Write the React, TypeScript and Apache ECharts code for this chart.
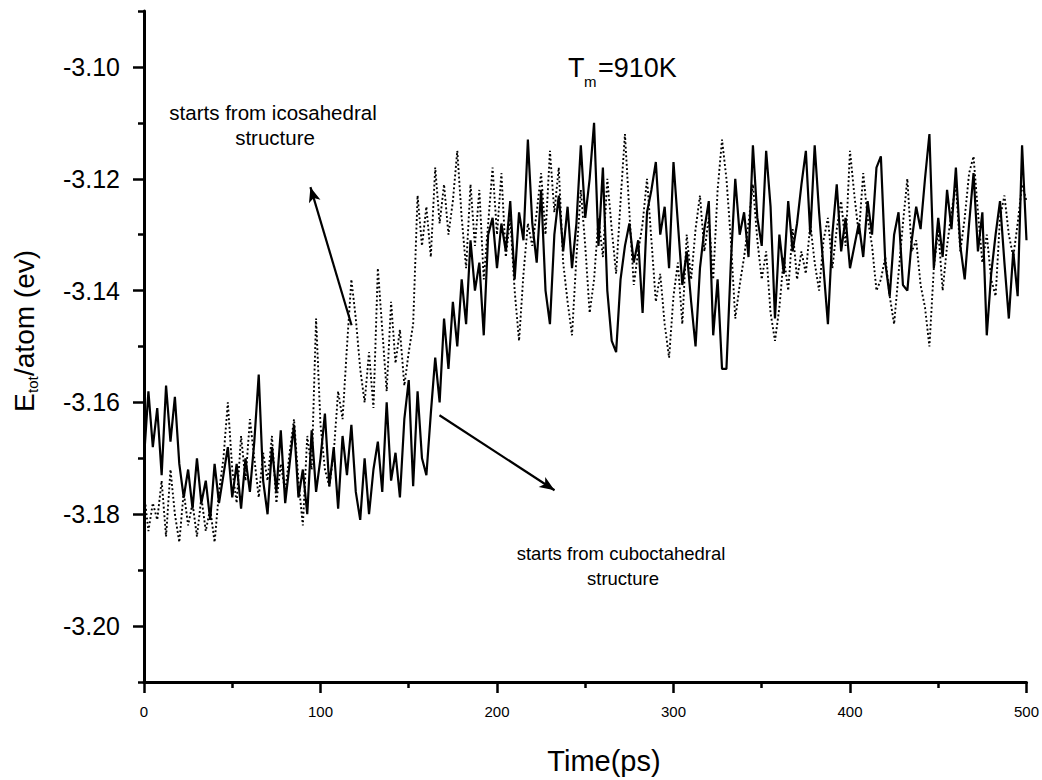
import React, { useEffect, useRef } from "react";
import * as echarts from "echarts";

// Time step between samples (ps)
const TIME_STEP_PS = 2.5;

// E_tot/atom (eV), run that starts from the cuboctahedral structure (solid line)
const cuboctahedral = [
  -3.170, -3.158, -3.168, -3.161,
  -3.173, -3.157, -3.167, -3.159,
  -3.171, -3.177, -3.172, -3.179,
  -3.170, -3.178, -3.174, -3.181,
  -3.171, -3.178, -3.173, -3.168,
  -3.177, -3.171, -3.179, -3.170,
  -3.176, -3.167, -3.155, -3.174,
  -3.180, -3.168, -3.176, -3.165,
  -3.178, -3.171, -3.164, -3.177,
  -3.172, -3.180, -3.165, -3.176,
  -3.170, -3.162, -3.175, -3.168,
  -3.179, -3.166, -3.173, -3.164,
  -3.176, -3.181, -3.170, -3.180,
  -3.172, -3.167, -3.176, -3.160,
  -3.174, -3.169, -3.177, -3.163,
  -3.156, -3.175, -3.158, -3.170,
  -3.173, -3.162, -3.152, -3.160,
  -3.145, -3.154, -3.142, -3.150,
  -3.138, -3.146, -3.131, -3.140,
  -3.135, -3.148, -3.130, -3.127,
  -3.136, -3.128, -3.133, -3.124,
  -3.138, -3.126, -3.131, -3.113,
  -3.128, -3.135, -3.122, -3.140,
  -3.146, -3.130, -3.123, -3.133,
  -3.125, -3.136, -3.128, -3.114,
  -3.127, -3.120, -3.110, -3.132,
  -3.118, -3.140, -3.149, -3.151,
  -3.138, -3.132, -3.128, -3.135,
  -3.131, -3.144, -3.126, -3.122,
  -3.117, -3.130, -3.125, -3.136,
  -3.117, -3.128, -3.139, -3.133,
  -3.142, -3.150, -3.136, -3.129,
  -3.124, -3.148, -3.138, -3.154,
  -3.154, -3.135, -3.120, -3.130,
  -3.126, -3.134, -3.114, -3.127,
  -3.132, -3.115, -3.125, -3.145,
  -3.130, -3.137, -3.124, -3.133,
  -3.128, -3.121, -3.115, -3.130,
  -3.114, -3.126, -3.136, -3.146,
  -3.130, -3.121, -3.133, -3.127,
  -3.136, -3.132, -3.128, -3.134,
  -3.124, -3.130, -3.118, -3.116,
  -3.135, -3.141, -3.130, -3.126,
  -3.139, -3.140, -3.131, -3.125,
  -3.129, -3.120, -3.112, -3.136,
  -3.127, -3.134, -3.122, -3.129,
  -3.118, -3.132, -3.138, -3.128,
  -3.119, -3.133, -3.126, -3.148,
  -3.137, -3.130, -3.124, -3.135,
  -3.145, -3.133, -3.141, -3.114,
  -3.131,
];

// E_tot/atom (eV), run that starts from the icosahedral structure (dotted line)
const icosahedral = [
  -3.176, -3.183, -3.178, -3.181,
  -3.174, -3.184, -3.172, -3.180,
  -3.185, -3.176, -3.182, -3.178,
  -3.184, -3.177, -3.183, -3.179,
  -3.185, -3.176, -3.170, -3.160,
  -3.172, -3.178, -3.166, -3.174,
  -3.163, -3.170, -3.177, -3.169,
  -3.174, -3.166, -3.178, -3.171,
  -3.176, -3.169, -3.163, -3.174,
  -3.182, -3.166, -3.172, -3.145,
  -3.164, -3.172, -3.175, -3.169,
  -3.158, -3.163, -3.150, -3.138,
  -3.145, -3.154, -3.160, -3.151,
  -3.161, -3.136, -3.147, -3.158,
  -3.142, -3.153, -3.147, -3.157,
  -3.151, -3.146, -3.123, -3.132,
  -3.125, -3.134, -3.118, -3.128,
  -3.121, -3.130, -3.124, -3.115,
  -3.127, -3.136, -3.121, -3.132,
  -3.122, -3.138, -3.128, -3.118,
  -3.130, -3.119, -3.134, -3.127,
  -3.140, -3.149, -3.137, -3.128,
  -3.132, -3.126, -3.119, -3.130,
  -3.115, -3.126, -3.118, -3.135,
  -3.142, -3.148, -3.134, -3.122,
  -3.132, -3.144, -3.138, -3.127,
  -3.134, -3.120, -3.129, -3.137,
  -3.124, -3.112, -3.126, -3.139,
  -3.133, -3.128, -3.120, -3.131,
  -3.142, -3.137, -3.146, -3.152,
  -3.141, -3.135, -3.146, -3.130,
  -3.138, -3.129, -3.123, -3.133,
  -3.127, -3.138, -3.122, -3.113,
  -3.120, -3.131, -3.145, -3.139,
  -3.134, -3.128, -3.121, -3.131,
  -3.138, -3.133, -3.144, -3.149,
  -3.143, -3.134, -3.140, -3.129,
  -3.138, -3.133, -3.137, -3.128,
  -3.135, -3.140, -3.131, -3.127,
  -3.136, -3.129, -3.124, -3.132,
  -3.115, -3.123, -3.130, -3.119,
  -3.127, -3.132, -3.140, -3.138,
  -3.134, -3.141, -3.146, -3.137,
  -3.128, -3.120, -3.133, -3.131,
  -3.139, -3.143, -3.150, -3.136,
  -3.129, -3.140, -3.132, -3.126,
  -3.121, -3.133, -3.127, -3.119,
  -3.116, -3.126, -3.135, -3.130,
  -3.138, -3.141, -3.127, -3.123,
  -3.130, -3.134, -3.128, -3.121,
  -3.124,
];

// Axis ticks
const xRange = [0, 500];
const xTickInterval = 100;
const yRange = [-3.21, -3.09];
const yMajorTicks = [-3.2, -3.18, -3.16, -3.14, -3.12, -3.1];
const yMinorTicks = [-3.21, -3.19, -3.17, -3.15, -3.13, -3.11, -3.09];

// Annotation arrows (data coordinates: [time, energy]) tail -> head
const icoArrow = [[117.6, -3.1462], [94.3, -3.1215]];
const cuboArrow = [[167.4, -3.1623], [232.6, -3.1757]];

const FONT = 'Arial, "Liberation Sans", sans-serif';

const toPairs = (vals: number[]) => vals.map((v, i) => [i * TIME_STEP_PS, v]);

export default function App() {
  const ref = useRef<HTMLDivElement>(null);

  useEffect(() => {
    if (!ref.current) return;
    const chart = echarts.init(ref.current, undefined, { renderer: "svg" });

    const txt = (x: number, y: number, text: string, size: number, align = "left", extra: any = {}) => ({
      type: "text",
      x,
      y,
      silent: true,
      style: {
        text,
        fill: "#000",
        font: `${size}px ${FONT}`,
        align,
        verticalAlign: "middle",
        ...extra,
      },
    });

    const option: any = {
      animation: false,
      backgroundColor: "#fff",
      grid: { left: 144, right: 15, top: 11, bottom: 98, containLabel: false },
      xAxis: {
        type: "value",
        min: xRange[0],
        max: xRange[1],
        interval: xTickInterval,
        axisLine: { show: true, lineStyle: { color: "#000", width: 3 } },
        axisTick: { show: true, inside: false, length: 11, lineStyle: { color: "#000", width: 2.5 } },
        minorTick: { show: true, splitNumber: 2, length: 6, lineStyle: { color: "#000", width: 2.5 } },
        splitLine: { show: false },
        axisLabel: { color: "#000", fontSize: 15, fontFamily: FONT, margin: 22 },
      },
      yAxis: [
        {
          type: "value",
          min: yRange[0],
          max: yRange[1],
          axisLine: { show: true, onZero: false, lineStyle: { color: "#000", width: 3 } },
          axisTick: {
            show: true,
            inside: false,
            length: 11,
            customValues: yMajorTicks,
            lineStyle: { color: "#000", width: 2.5 },
          },
          splitLine: { show: false },
          axisLabel: {
            color: "#000",
            fontSize: 25,
            fontFamily: FONT,
            margin: 24,
            customValues: yMajorTicks,
            formatter: (v: number) => v.toFixed(2),
          },
        },
        {
          type: "value",
          position: "left",
          min: yRange[0],
          max: yRange[1],
          axisLine: { show: false },
          axisTick: {
            show: true,
            inside: false,
            length: 6,
            customValues: yMinorTicks,
            lineStyle: { color: "#000", width: 2.5 },
          },
          splitLine: { show: false },
          axisLabel: { show: false },
        },
      ],
      series: [
        {
          name: "starts from cuboctahedral structure",
          type: "line",
          data: toPairs(cuboctahedral),
          showSymbol: false,
          symbol: "none",
          lineStyle: { color: "#000", width: 2.2 },
          markLine: {
            silent: true,
            symbol: ["none", "arrow"],
            symbolSize: [9, 15],
            label: { show: false },
            lineStyle: { color: "#000", width: 2.2, type: "solid" },
            data: [
              [{ coord: icoArrow[0] }, { coord: icoArrow[1] }],
              [{ coord: cuboArrow[0] }, { coord: cuboArrow[1] }],
            ],
          },
        },
        {
          name: "starts from icosahedral structure",
          type: "line",
          data: toPairs(icosahedral),
          showSymbol: false,
          symbol: "none",
          lineStyle: { color: "#000", width: 1.9, type: [1.9, 2.4] },
        },
      ],
      graphic: [
        // title
        txt(568, 68, "T", 27),
        txt(584, 81, "m", 15),
        txt(598, 68, "=910K", 27),
        // annotations
        txt(273, 112, "starts from icosahedral", 20.5, "center"),
        txt(275, 137, "structure", 20.5, "center"),
        txt(621, 553, "starts from cuboctahedral", 18.5, "center"),
        txt(623, 578, "structure", 18.5, "center"),
        // x axis name
        txt(604, 761, "Time(ps)", 29, "center"),
        // y axis name (rotated)
        {
          type: "group",
          x: 24,
          y: 412,
          rotation: Math.PI / 2,
          children: [
            txt(0, 0, "E", 28),
            txt(19, 8, "tot", 15),
            txt(36, 0, "/atom (ev)", 28),
          ],
        },
      ],
    };

    chart.setOption(option);
    return () => chart.dispose();
  }, []);

  return (
    <div
      ref={ref}
      style={{ position: "fixed", left: 0, top: 0, width: 1042, height: 780, background: "#fff" }}
    />
  );
}
